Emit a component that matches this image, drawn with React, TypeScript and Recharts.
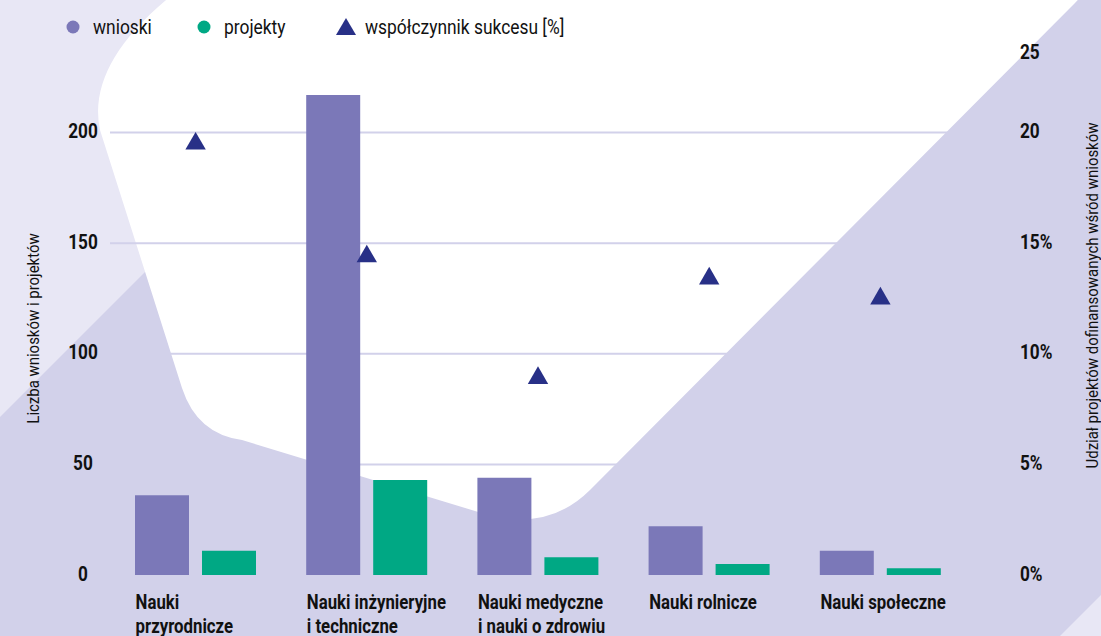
import React from "react"
import {
  ComposedChart,
  Bar,
  Scatter,
  XAxis,
  YAxis,
  ZAxis,
  CartesianGrid,
} from "recharts"

const categories = [
  "Nauki\nprzyrodnicze",
  "Nauki inżynieryjne\ni techniczne",
  "Nauki medyczne\ni nauki o zdrowiu",
  "Nauki rolnicze",
  "Nauki społeczne",
]
const wnioski = [36, 217, 44, 22, 11]
const projekty = [11, 43, 8, 5, 3]
const sukces = [19.5, 14.4, 8.9, 13.4, 12.5]

const leftTicks = [0, 50, 100, 150, 200]
const rightTicks = [0, 5, 10, 15, 20, 25]
const rightTickLabels = ["0%", "5%", "10%", "15%", "20", "25"]

const legendLabels = ["wnioski", "projekty", "współczynnik sukcesu [%]"]

// no condensed face installed, so Roboto gets squeezed horizontally
const FONT = "Roboto, sans-serif"
const SQUEEZE = 0.8
const C_WNIOSKI = "#7b78b8"
const C_PROJEKTY = "#00a884"
const C_SUKCES = "#283087"
const BG_LIGHT = "#e8e7f5"
const BG_DARK = "#d2d1ea"

const data = categories.map((name, i) => ({
  name,
  wnioski: wnioski[i],
  projekty: projekty[i],
  sukces: sukces[i],
}))

function CategoryTick(props: any) {
  const { x, y, payload } = props
  const lines = String(payload.value).split("\n")
  return (
    <text
      transform={`translate(${x - 60},${y + 34}) scale(${SQUEEZE},1)`}
      fontFamily={FONT}
      fontSize={21}
      fontWeight={700}
      fill="#111"
    >
      {lines.map((l, i) => (
        <tspan key={i} x={0} dy={i === 0 ? 0 : 24}>
          {l}
        </tspan>
      ))}
    </text>
  )
}

function LeftTick(props: any) {
  const { x, y, payload } = props
  return (
    <text
      transform={`translate(${x},${y - 2}) scale(0.82,1)`}
      dy="0.36em"
      textAnchor="middle"
      fontFamily={FONT}
      fontSize={21}
      fontWeight={700}
      fill="#111"
    >
      {payload.value}
    </text>
  )
}

function RightTick(props: any) {
  const { x, y, payload, index } = props
  // the top label sits lower in the original layout
  const shift = payload.value === 25 ? 31 : 0
  return (
    <text
      transform={`translate(${x},${y - 2 + shift}) scale(0.82,1)`}
      dy="0.36em"
      textAnchor="start"
      fontFamily={FONT}
      fontSize={21}
      fontWeight={700}
      fill="#111"
    >
      {rightTickLabels[index]}
    </text>
  )
}

function AxisTitle({ viewBox, dx, dy, text }: any) {
  const cx = viewBox.x + dx
  const cy = viewBox.y + viewBox.height / 2 + dy
  return (
    <text
      transform={`translate(${cx},${cy}) rotate(-90) scale(0.88,1)`}
      textAnchor="middle"
      dominantBaseline="central"
      fontFamily={FONT}
      fontSize={17}
      fill="#111"
    >
      {text}
    </text>
  )
}

function Background() {
  return (
    <svg width={1101} height={636} style={{ position: "absolute", left: 0, top: 0 }}>
      <rect width={1101} height={636} fill={BG_LIGHT} />
      <polygon points="0,417 417,0 1101,0 1101,595 1060,636 0,636" fill={BG_DARK} />
      <path
        d="M 1190,-120 L 260,-120 L 185,-15 Q 85,60 100,130 L 182,388 Q 197,434 242,440 L 475,511 Q 545,535 590,490 L 1075,3 Z"
        fill="#ffffff"
      />
    </svg>
  )
}

function LegendRow() {
  const markers = [
    <circle cx={73} cy={27} r={6.5} fill={C_WNIOSKI} key="a" />,
    <circle cx={204} cy={27} r={6.5} fill={C_PROJEKTY} key="b" />,
    <polygon points="346,18 356,35 336,35" fill={C_SUKCES} key="c" />,
  ]
  const textX = [93, 224, 365]
  return (
    <svg width={700} height={60} style={{ position: "absolute", left: 0, top: 0 }}>
      {markers}
      {legendLabels.map((l, i) => (
        <text
          key={l}
          transform={`translate(${textX[i]},27) scale(0.87,1)`}
          dy="0.35em"
          fontFamily={FONT}
          fontSize={20}
          fill="#111"
        >
          {l}
        </text>
      ))}
    </svg>
  )
}

export default function App() {
  return (
    <div style={{ position: "absolute", left: 0, top: 0, width: 1101, height: 636, overflow: "hidden" }}>
      <Background />
      <div style={{ position: "absolute", left: 0, top: 0 }}>
        <ComposedChart
          width={1101}
          height={636}
          data={data}
          margin={{ top: 22, right: 0, bottom: 0, left: 0 }}
          barGap={13}
        >
          <CartesianGrid
            vertical={false}
            horizontalValues={leftTicks}
            stroke={BG_DARK}
            strokeWidth={2}
          />
          <XAxis
            dataKey="name"
            height={61}
            axisLine={false}
            tickLine={false}
            tickSize={0}
            tickMargin={0}
            interval={0}
            tick={<CategoryTick />}
          />
          <YAxis
            width={110}
            domain={[0, 250]}
            ticks={leftTicks}
            axisLine={false}
            tickLine={false}
            tickSize={0}
            tickMargin={27}
            tick={<LeftTick />}
            label={{
              content: (p: any) => (
                <AxisTitle viewBox={p.viewBox} dx={33} dy={30} text="Liczba wniosków i projektów" />
              ),
            }}
          />
          <YAxis
            yAxisId="right"
            orientation="right"
            width={135}
            domain={[0, 25]}
            ticks={rightTicks}
            axisLine={false}
            tickLine={false}
            tickSize={0}
            tickMargin={54}
            tick={<RightTick />}
            label={{
              content: (p: any) => (
                <AxisTitle
                  viewBox={p.viewBox}
                  dx={126}
                  dy={-3}
                  text="Udział projektów dofinansowanych  wśród wniosków"
                />
              ),
            }}
          />
          <ZAxis range={[180, 180]} />
          <Bar dataKey="wnioski" fill={C_WNIOSKI} barSize={54} isAnimationActive={false} />
          <Bar dataKey="projekty" fill={C_PROJEKTY} barSize={54} isAnimationActive={false} />
          <Scatter yAxisId="right" dataKey="sukces" fill={C_SUKCES} shape="triangle" isAnimationActive={false} />
        </ComposedChart>
      </div>
      <LegendRow />
    </div>
  )
}
